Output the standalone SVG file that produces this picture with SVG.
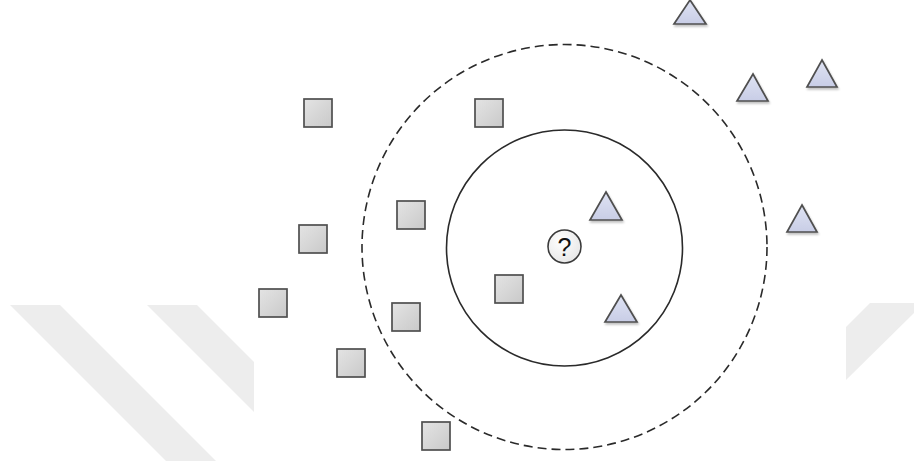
<svg xmlns="http://www.w3.org/2000/svg" width="914" height="461" viewBox="0 0 914 461">
  <defs>
    <linearGradient id="sqg" x1="0" y1="0" x2="1" y2="1">
      <stop offset="0" stop-color="#e4e4e4"/>
      <stop offset="1" stop-color="#c9c9c9"/>
    </linearGradient>
    <linearGradient id="trg" x1="0" y1="0" x2="0" y2="1">
      <stop offset="0" stop-color="#dfe3f3"/>
      <stop offset="1" stop-color="#c8cde6"/>
    </linearGradient>
    <radialGradient id="qg" cx="0.4" cy="0.35" r="0.7">
      <stop offset="0" stop-color="#ffffff"/>
      <stop offset="1" stop-color="#e6e6e6"/>
    </radialGradient>
    <filter id="sh" x="-20%" y="-20%" width="150%" height="160%">
      <feGaussianBlur in="SourceAlpha" stdDeviation="1"/>
      <feOffset dx="1" dy="2" result="b"/>
      <feComponentTransfer><feFuncA type="linear" slope="0.25"/></feComponentTransfer>
      <feMerge><feMergeNode/><feMergeNode in="SourceGraphic"/></feMerge>
    </filter>
  </defs>
  <style>
    .sq{fill:url(#sqg);stroke:#4f4f4f;stroke-width:1.7}
    .tr{fill:url(#trg);stroke:#4f4f4f;stroke-width:1.7;stroke-linejoin:miter}
    .wm{fill:#ededed}
  </style>
  <rect width="914" height="461" fill="#ffffff"/>
  <g id="watermark">
    <polygon class="wm" points="10,305 60,305 216,461 166,461"/>
    <polygon class="wm" points="147,305 197,305 254,362 254,412"/>
    <polygon class="wm" points="870,303 914,303 914,313 846,380 846,327"/>
  </g>
  <g id="circles">
    <circle id="outer" cx="564.5" cy="247" r="202.5" fill="none" stroke="#2a2a2a" stroke-width="1.6" stroke-dasharray="9,5"/>
    <circle id="inner" cx="564.5" cy="248" r="118" fill="none" stroke="#2a2a2a" stroke-width="1.6"/>
  </g>
  <g id="query">
    <circle cx="564.5" cy="246.5" r="16.5" fill="url(#qg)" stroke="#3a3a3a" stroke-width="1.6"/>
    <text x="564.5" y="255.5" text-anchor="middle" font-family="Liberation Sans, Arial, sans-serif" font-size="25" fill="#111">?</text>
  </g>
  <g id="squares">
    <rect id="s1" class="sq" x="304" y="99" width="28" height="28"/>
    <rect id="s2" class="sq" x="475" y="99" width="28" height="28"/>
    <rect id="s3" class="sq" x="397" y="201" width="28" height="28"/>
    <rect id="s4" class="sq" x="299" y="225" width="28" height="28"/>
    <rect id="s5" class="sq" x="259" y="289" width="28" height="28"/>
    <rect id="s6" class="sq" x="392" y="303" width="28" height="28"/>
    <rect id="s7" class="sq" x="337" y="349" width="28" height="28"/>
    <rect id="s8" class="sq" x="422" y="422" width="28" height="28"/>
    <rect id="s9" class="sq" x="495" y="275" width="28" height="28"/>
  </g>
  <g id="triangles" filter="url(#sh)">
    <polygon id="t1" class="tr" points="690,0 706,24 674,24"/>
    <polygon id="t2" class="tr" points="753,74 768,101 737,101"/>
    <polygon id="t3" class="tr" points="822,60 837,87 807,87"/>
    <polygon id="t4" class="tr" points="802,205 817,232 787,232"/>
    <polygon id="t5" class="tr" points="606,192 622,220 590,220"/>
    <polygon id="t6" class="tr" points="621,295 637,322 605,322"/>
  </g>
</svg>
